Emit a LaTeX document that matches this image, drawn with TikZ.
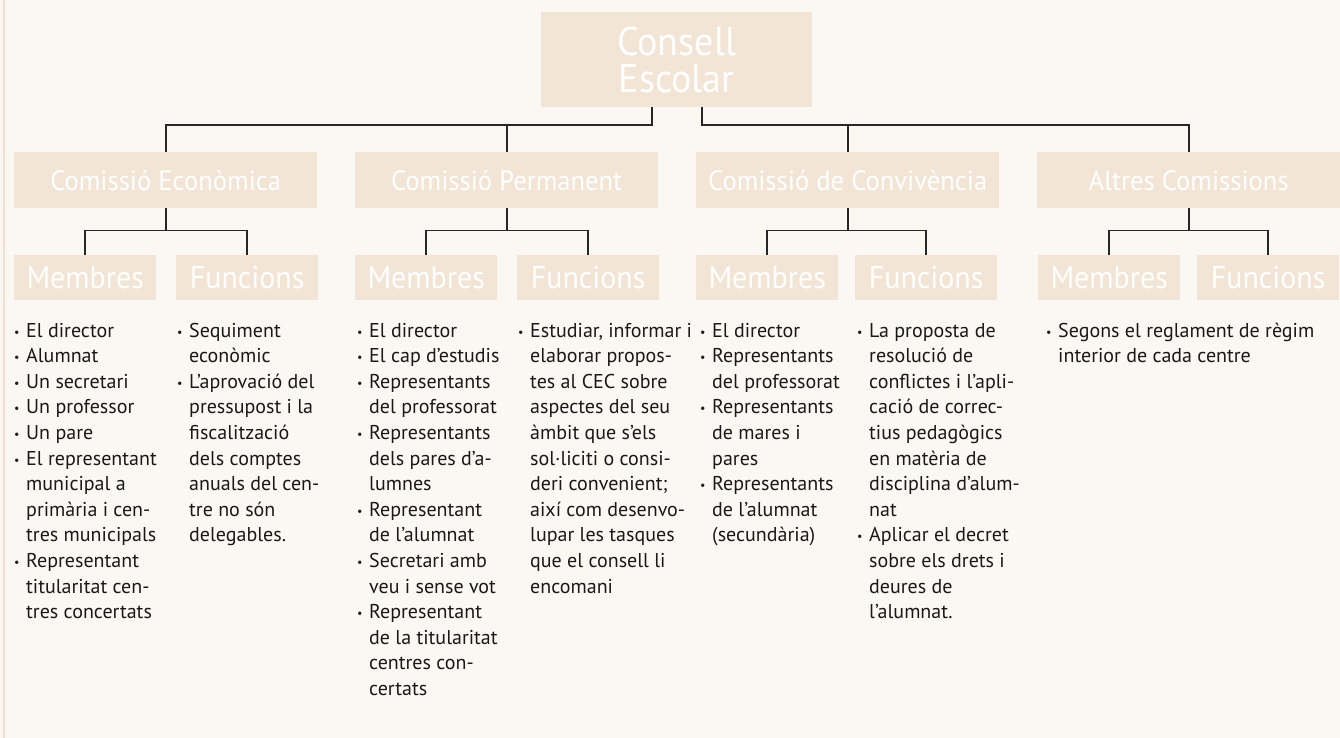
\documentclass[tikz,border=0pt]{standalone}
\usepackage{fontspec}
\setmainfont{PT Sans}
\newfontfamily\headfont[FakeStretch=0.95]{PT Sans}
\usetikzlibrary{positioning,calc}

\definecolor{pagecol}{HTML}{FBF8F3}
\definecolor{boxcol}{HTML}{F3E5D5}
\definecolor{edgecol}{HTML}{F3E0CC}

% bullet with hanging indent
\newcommand{\bul}{\makebox[12pt][l]{\raisebox{1pt}{\fontsize{12}{12}\selectfont\textbullet}}}
\newcommand{\ind}{\hspace*{12pt}}

\begin{document}
\begin{tikzpicture}[x=1pt,y=-1pt,
	box/.style={fill=boxcol, text=white, inner sep=0, anchor=north west, align=center},
	combox/.style={box, minimum width=303, minimum height=56, font=\headfont\fontsize{28}{30}\selectfont},
	subbox/.style={box, minimum width=142, minimum height=45, font=\headfont\fontsize{31.5}{32}\selectfont},
	list/.style={anchor=north west, inner sep=0, align=left, text=black!90, font=\fontsize{20}{25.6}\selectfont},
	conn/.style={line width=1.8pt, black!85}]
	
	\useasboundingbox (0,0) rectangle (1340,738);
	\fill[pagecol] (0,0) rectangle (1340,738);
	\draw[edgecol, line width=1.5pt] (4,0) -- (4,738);
	
	% top
	\node[box, minimum width=271, minimum height=95, font=\headfont\fontsize{40}{37}\selectfont] (consell) at (541,12) {Consell\\Escolar};
	
	% comissions
	\node[combox] (ceco) at (14,152) {Comissió Econòmica};
	\node[combox] (cperm) at (355,152) {Comissió Permanent};
	\node[combox] (cconv) at (696,152) {Comissió de Convivència};
	\node[combox] (caltres) at (1037,152) {Altres Comissions};
	
	% membres / funcions
	\node[subbox] (mem1) at (14,255) {Membres};
	\node[subbox] (fun1) at (176,255) {Funcions};
	\node[subbox] (mem2) at (355,255) {Membres};
	\node[subbox] (fun2) at (517,255) {Funcions};
	\node[subbox] (mem3) at (696,255) {Membres};
	\node[subbox] (fun3) at (855,255) {Funcions};
	\node[subbox] (mem4) at (1038,255) {Membres};
	\node[subbox] (fun4) at (1197,255) {Funcions};
	
	% connectors
	\draw[conn] ([xshift=-25pt]consell.south) -- ++(0,18) -| (ceco.north);
	\draw[conn] ([xshift=25pt]consell.south) -- ++(0,18) -| (caltres.north);
	\draw[conn] (cperm.north) -- ++(0,-27);
	\draw[conn] (cconv.north) -- ++(0,-27);
	\foreach \c/\m/\f in {ceco/mem1/fun1, cperm/mem2/fun2, cconv/mem3/fun3, caltres/mem4/fun4}{
		\draw[conn] (\c.south) -- ++(0,22) coordinate (\c-j) -| (\m.north);
		\draw[conn] (\c-j) -| (\f.north);
	}
	
	% lists
	\node[list] (lmem1) at (14,319) {\strut\bul El director\\ \bul Alumnat\\ \bul Un secretari\\ \bul Un professor\\ \bul Un pare\\
		\bul El representant\\ \ind municipal a\\ \ind primària i cen-\\ \ind tres municipals\\
		\bul Representant\\ \ind titularitat cen-\\ \ind tres concertats};
	\node[list] (lfun1) at (177,319) {\strut\bul Sequiment\\ \ind econòmic\\
		\bul L’aprovació del\\ \ind pressupost i la\\ \ind fiscalització\\ \ind dels comptes\\ \ind anuals del cen-\\ \ind tre no són\\ \ind delegables.};
	\node[list] (lmem2) at (357,319) {\strut\bul El director\\ \bul El cap d’estudis\\
		\bul Representants\\ \ind del professorat\\
		\bul Representants\\ \ind dels pares d’a-\\ \ind lumnes\\
		\bul Representant\\ \ind de l’alumnat\\
		\bul Secretari amb\\ \ind veu i sense vot\\
		\bul Representant\\ \ind de la titularitat\\ \ind centres con-\\ \ind certats};
	\node[list] (lfun2) at (518,319) {\strut\bul Estudiar, informar i\\ \ind elaborar propos-\\ \ind tes al CEC sobre\\ \ind aspectes del seu\\
		\ind àmbit que s’els\\ \ind sol·liciti o consi-\\ \ind deri convenient;\\ \ind així com desenvo-\\ \ind lupar les tasques\\
		\ind que el consell li\\ \ind encomani};
	\node[list] (lmem3) at (700,319) {\strut\bul El director\\
		\bul Representants\\ \ind del professorat\\
		\bul Representants\\ \ind de mares i\\ \ind pares\\
		\bul Representants\\ \ind de l’alumnat\\ \ind (secundària)};
	\node[list] (lfun3) at (857,319) {\strut\bul La proposta de\\ \ind resolució de\\ \ind conflictes i l’apli-\\ \ind cació de correc-\\
		\ind tius pedagògics\\ \ind en matèria de\\ \ind disciplina d’alum-\\ \ind nat\\
		\bul Aplicar el decret\\ \ind sobre els drets i\\ \ind deures de\\ \ind l’alumnat.};
	\node[list] (lmem4) at (1046,319) {\strut\bul Segons el reglament de règim\\ \ind interior de cada centre};
	
\end{tikzpicture}
\end{document}
